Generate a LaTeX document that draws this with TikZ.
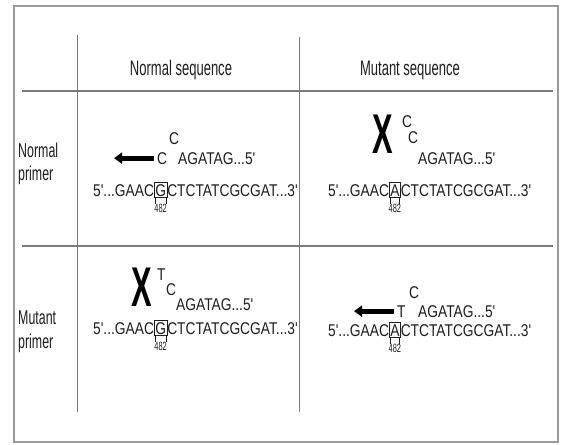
\documentclass[tikz,border=0pt]{standalone}
\usepackage{fontspec}
\setmainfont{Liberation Sans}
\newfontfamily\seqfont{Liberation Sans}[FakeStretch=0.81]
\newfontfamily\labfont{Liberation Sans}[FakeStretch=0.62]
\newfontfamily\xfont{Liberation Sans}[FakeStretch=0.55]
\usetikzlibrary{arrows.meta}
\definecolor{ink}{HTML}{1E1E1E}
\definecolor{rulecol}{HTML}{7A7A7A}
\definecolor{framecol}{HTML}{9A9A9A}
\begin{document}
\begin{tikzpicture}[x=1pt,y=-1pt,
  seq/.style={font=\seqfont\fontsize{17}{17}\selectfont, text=ink, inner sep=0pt, anchor=base west},
  basebox/.style={seq, draw=ink, line width=0.6pt, inner xsep=0.8pt, inner ysep=1.2pt, text height=12.2pt, text depth=0pt},
  numlab/.style={font=\labfont\fontsize{12}{12}\selectfont, text=ink, inner sep=0pt, anchor=north},
  hdr/.style={font=\labfont\fontsize{21}{21}\selectfont, text=ink, inner sep=0pt},
  rowlab/.style={font=\labfont\fontsize{20}{20}\selectfont, text=ink, inner sep=0pt, anchor=west},
  xmark/.style={font=\xfont\bfseries\fontsize{56}{56}\selectfont, text=black, inner sep=0pt},
  primerarrow/.style={line width=5pt, draw=black, -{Triangle[length=8pt,width=11pt]}},
  gridline/.style={draw=rulecol, line width=0.9pt},
  hline/.style={draw=rulecol, line width=1.3pt},
  tick/.style={draw=ink, line width=0.5pt}
]
\fill[white] (0,0) rectangle (561,444);
\useasboundingbox (0,0) rectangle (561,444);
% frame and grid
\draw[draw=framecol, line width=1.6pt] (14,6) rectangle (558,442);
\draw[gridline] (77,35) -- (77,412);
\draw[gridline] (299,37) -- (299,412);
\draw[hline] (22,91) -- (553,91);
\draw[hline] (22,246) -- (553,246);
% headers
\node[hdr] (h1) at (181,70) {Normal sequence};
\node[hdr] (h2) at (410,70) {Mutant sequence};
\node[rowlab] (r1a) at (18,150) {Normal};
\node[rowlab] (r1b) at (18,175) {primer};
\node[rowlab] (r2a) at (18,318) {Mutant};
\node[rowlab] (r2b) at (18,343) {primer};

% ---- cell 1: normal primer, normal sequence
\node[seq] (c1p) at (157,164) {C};
\node[seq] (c1s) at (169,144) {C};
\node[seq] (c1r) at (178,164) {AGATAG...5'};
\draw[primerarrow] ([xshift=-3pt]c1p.west) -- ++(-40,0);
\node[seq] (c1l) at (93,196) {5'...GAAC};
\node[basebox, anchor=base west] (c1b) at (c1l.base east) {G};
\node[seq] (c1t) at (c1b.base east) {CTCTATCGCGAT...3'};
\draw[tick] ([xshift=1.2pt]c1b.south west) -- ++(0,6);
\draw[tick] ([xshift=-1.2pt]c1b.south east) -- ++(0,6);
\node[numlab] (c1n) at ([yshift=-6pt]c1b.south) {482};

% ---- cell 2: normal primer, mutant sequence
\node[xmark] (x2) at (383,134) {X};
\node[seq] (c2s) at (402,127) {C};
\node[seq] (c2p) at (408,143) {C};
\node[seq] (c2r) at (418,164) {AGATAG...5'};
\node[seq] (c2l) at (328,196) {5'...GAAC};
\node[basebox, anchor=base west] (c2b) at (c2l.base east) {A};
\node[seq] (c2t) at (c2b.base east) {CTCTATCGCGAT...3'};
\draw[tick] ([xshift=1.2pt]c2b.south west) -- ++(0,6);
\draw[tick] ([xshift=-1.2pt]c2b.south east) -- ++(0,6);
\node[numlab] (c2n) at ([yshift=-6pt]c2b.south) {482};

% ---- cell 3: mutant primer, normal sequence
\node[xmark] (x3) at (142,287) {X};
\node[seq] (c3s) at (157,280) {T};
\node[seq] (c3p) at (166,295) {C};
\node[seq] (c3r) at (176,310) {AGATAG...5'};
\node[seq] (c3l) at (93,334) {5'...GAAC};
\node[basebox, anchor=base west] (c3b) at (c3l.base east) {G};
\node[seq] (c3t) at (c3b.base east) {CTCTATCGCGAT...3'};
\draw[tick] ([xshift=1.2pt]c3b.south west) -- ++(0,6);
\draw[tick] ([xshift=-1.2pt]c3b.south east) -- ++(0,6);
\node[numlab] (c3n) at ([yshift=-6pt]c3b.south) {482};

% ---- cell 4: mutant primer, mutant sequence
\node[seq] (c4p) at (397,317) {T};
\node[seq] (c4s) at (409,298) {C};
\node[seq] (c4r) at (418,317) {AGATAG...5'};
\draw[primerarrow] ([xshift=-3pt]c4p.west) -- ++(-40,0);
\node[seq] (c4l) at (328,336) {5'...GAAC};
\node[basebox, anchor=base west] (c4b) at (c4l.base east) {A};
\node[seq] (c4t) at (c4b.base east) {CTCTATCGCGAT...3'};
\draw[tick] ([xshift=1.2pt]c4b.south west) -- ++(0,6);
\draw[tick] ([xshift=-1.2pt]c4b.south east) -- ++(0,6);
\node[numlab] (c4n) at ([yshift=-6pt]c4b.south) {482};
\end{tikzpicture}
\end{document}
